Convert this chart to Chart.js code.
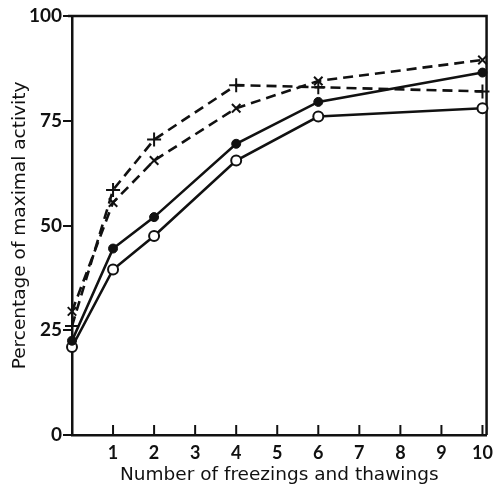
<!DOCTYPE html>
<html>
<head>
<meta charset="utf-8">
<script src="https://cdn.jsdelivr.net/npm/chart.js@4"></script>
<style>
  html, body { margin: 0; padding: 0; background: #fff; }
  #wrap { width: 500px; height: 486px; }
</style>
</head>
<body>
<div id="wrap"><canvas id="activityChart" width="500" height="486"></canvas></div>
<script>
// Number of freeze/thaw cycles
var freezings = [0, 1, 2, 4, 6, 10];

// Percentage of maximal activity for each preparation
var openCircles = [21, 39.5, 47.5, 65.5, 76, 78];
var filledCircles = [22.5, 44.5, 52, 69.5, 79.5, 86.5];
var plusMarks = [26, 58.5, 70.5, 83.5, 83, 82];
var crossMarks = [29.5, 55.5, 65.5, 78, 84.5, 89.5];

var xTicks = [1, 2, 3, 4, 5, 6, 7, 8, 9, 10];
var yTicks = [0, 25, 50, 75, 100];

var ink = "#111";
var tickFont = "Lato, 'Open Sans', sans-serif";
var titleFont = "'DejaVu Sans', sans-serif";

function toPoints(values) {
    return values.map(function (v, i) {
        return { x: freezings[i], y: v };
    });
}

function makeSeries(values, style, dashed) {
    return {
        data: toPoints(values),
        showLine: true,
        borderColor: ink,
        borderWidth: 2.6,
        borderDash: dashed ? [10, 6] : [],
        pointStyle: style.shape,
        pointRadius: style.radius,
        pointBorderWidth: style.border,
        pointBackgroundColor: style.fill,
        pointBorderColor: ink,
        clip: false
    };
}

// Frame on top/right plus the inward x ticks
var frameAndTicks = {
    id: "frameAndTicks",
    beforeDatasetsDraw: function (chart) {
        var ctx = chart.ctx;
        var area = chart.chartArea;
        var xScale = chart.scales.x;
        ctx.save();
        ctx.strokeStyle = ink;
        ctx.lineWidth = 2.5;
        ctx.beginPath();
        ctx.moveTo(area.left - 4, area.top);
        ctx.lineTo(area.right, area.top);
        ctx.lineTo(area.right, area.bottom);
        ctx.stroke();
        ctx.lineWidth = 2;
        xTicks.forEach(function (t) {
            var px = xScale.getPixelForValue(t);
            ctx.beginPath();
            ctx.moveTo(px, area.bottom);
            ctx.lineTo(px, area.bottom - 10);
            ctx.stroke();
        });
        ctx.restore();
    }
};

var ctx = document.getElementById("activityChart").getContext("2d");
var activityChart = new Chart(ctx, {
    type: "scatter",
    data: {
        datasets: [
            makeSeries(crossMarks, { shape: "crossRot", radius: 6, border: 2, fill: ink }, true),
            makeSeries(plusMarks, { shape: "cross", radius: 7, border: 2, fill: ink }, true),
            makeSeries(filledCircles, { shape: "circle", radius: 4.5, border: 1, fill: ink }, false),
            makeSeries(openCircles, { shape: "circle", radius: 5, border: 2, fill: "#fff" }, false)
        ]
    },
    options: {
        responsive: false,
        animation: false,
        layout: { padding: { top: 16, right: 1, left: 0, bottom: 0 } },
        plugins: {
            legend: { display: false },
            tooltip: { enabled: false }
        },
        scales: {
            x: {
                type: "linear",
                min: 0,
                max: 10.1,
                afterFit: function (scale) { scale.height = 51; },
                afterBuildTicks: function (scale) {
                    scale.ticks = xTicks.map(function (v) { return { value: v }; });
                },
                grid: { display: false, drawTicks: false },
                border: { display: true, color: ink, width: 2.5 },
                ticks: {
                    color: ink,
                    padding: 7,
                    maxRotation: 0,
                    autoSkip: false,
                    font: { family: tickFont, size: 18, weight: "bold" }
                },
                title: {
                    display: true,
                    text: "Number of freezings and thawings",
                    color: ink,
                    padding: { top: 0, bottom: 0 },
                    font: { family: titleFont, size: 18.5 }
                }
            },
            y: {
                type: "linear",
                min: 0,
                max: 100,
                afterFit: function (scale) { scale.width = 72; },
                afterBuildTicks: function (scale) {
                    scale.ticks = yTicks.map(function (v) { return { value: v }; });
                },
                grid: {
                    drawOnChartArea: false,
                    drawTicks: true,
                    tickLength: 9,
                    color: ink,
                    lineWidth: 2
                },
                border: { display: true, color: ink, width: 2.5 },
                ticks: {
                    color: ink,
                    padding: 1,
                    font: { family: tickFont, size: 19, weight: "bold" }
                },
                title: {
                    display: true,
                    text: "Percentage of maximal activity",
                    color: ink,
                    padding: { top: 9, bottom: 0 },
                    font: { family: titleFont, size: 18.5 }
                }
            }
        }
    },
    plugins: [frameAndTicks]
});
</script>
</body>
</html>
